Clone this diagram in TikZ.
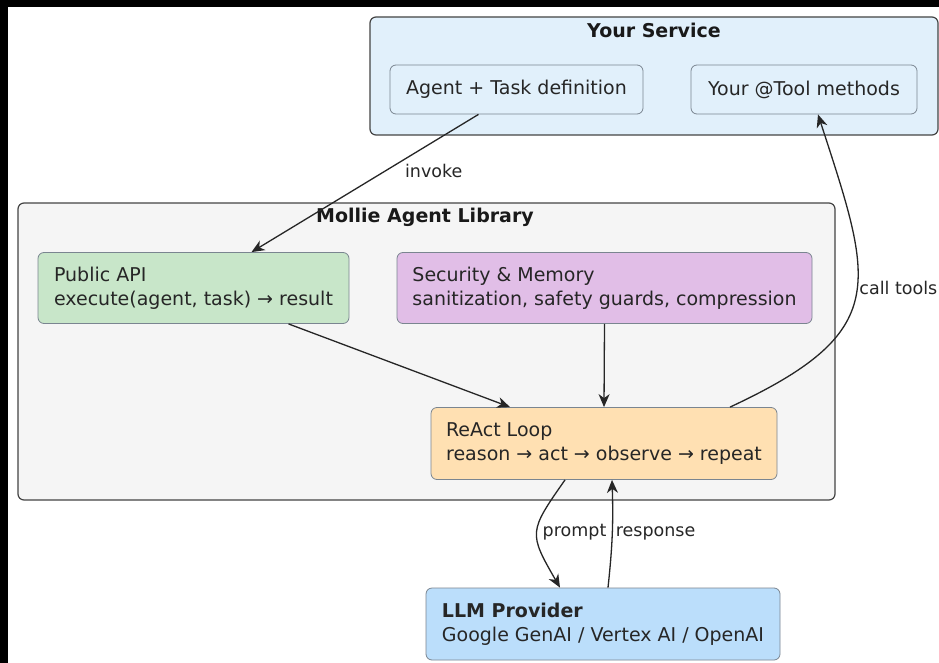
\documentclass[tikz,border=0pt]{standalone}
\usepackage{fontspec}
\setmainfont{DejaVu Sans}
\usetikzlibrary{arrows.meta}

\definecolor{serviceblue}{HTML}{E1F0FB}
\definecolor{libgrey}{HTML}{F5F5F5}
\definecolor{apigreen}{HTML}{C8E6C9}
\definecolor{secpurple}{HTML}{E1BEE7}
\definecolor{looporange}{HTML}{FFE0B2}
\definecolor{llmblue}{HTML}{BBDEFB}
\definecolor{boxline}{HTML}{444444}
\definecolor{partline}{HTML}{7A8590}

\begin{document}
\begin{tikzpicture}[x=1pt, y=-1pt, >={Stealth[length=13pt,width=11pt,inset=4pt]},
        line width=1.3pt,
        group box/.style={draw=boxline, rounded corners=6pt, line width=1.2pt},
        group title/.style={font=\fontsize{19}{24}\selectfont\bfseries, text=black!90},
        plain box/.style={draw=partline, fill=serviceblue, rounded corners=6pt,
            line width=0.8pt, font=\fontsize{19}{24}\selectfont, text=black!85},
        part box/.style={draw=partline, rounded corners=6pt, line width=0.8pt,
            align=left, inner xsep=15pt, font=\fontsize{19}{24}\selectfont, text=black!85},
        flow label/.style={font=\fontsize{17.5}{21}\selectfont, text=black!85, inner sep=1pt}]

    \useasboundingbox (0,0) rectangle (939,663);
    \fill[white] (0,0) rectangle (939,663);
    \fill[black] (0,0) rectangle (939,7);
    \fill[black] (0,0) rectangle (8,663);

    % Groups
    \node[group box, fill=serviceblue, minimum width=568pt, minimum height=118pt] (service) at (654,76) {};
    \node[group title] (servicetitle) at (654,30) {Your Service};
    \node[group box, fill=libgrey, minimum width=817pt, minimum height=297pt] (library) at (426.5,351.5) {};
    \node[group title] (librarytitle) at (425,217) {Mollie Agent Library};

    % Components
    \node[plain box, minimum width=253pt, minimum height=49pt] (agentdef) at (516.5,89.5) {Agent + Task definition};
    \node[plain box, minimum width=226pt, minimum height=49pt] (toolm) at (804,89.5) {Your @Tool methods};
    \node[part box, fill=apigreen, minimum width=311pt, minimum height=71pt] (pubapi) at (193.5,288)
        {Public API\\execute(agent, task) → result};
    \node[part box, fill=secpurple, minimum width=415pt, minimum height=71pt] (secmem) at (604.5,288)
        {Security \& Memory\\sanitization, safety guards, compression};
    \node[part box, fill=looporange, minimum width=346pt, minimum height=72pt] (react) at (604,443.5)
        {ReAct Loop\\reason → act → observe → repeat};
    \node[part box, fill=llmblue, minimum width=354pt, minimum height=72pt] (llm) at (603,624)
        {\textbf{LLM Provider}\\Google GenAI / Vertex AI / OpenAI};

    % Connections
    \draw[->, black!85] ([xshift=-38pt]agentdef.south) -- ([xshift=58pt]pubapi.north)
        node[flow label, pos=0.41, right=18pt] (invoke) {invoke};
    \draw[->, black!85] ([xshift=95pt]pubapi.south) -- ([xshift=-94pt]react.north);
    \draw[->, black!85] (secmem.south) -- (react.north);
    \draw[->, black!85] ([xshift=126pt]react.north) to[out=25, in=-72, looseness=1.5]
        node[flow label, pos=0.53, right=1pt] (calltools) {call tools} ([xshift=14pt]toolm.south);
    \draw[->, black!85] ([xshift=-39pt]react.south) to[out=-125, in=120, looseness=1.5]
        node[flow label, pos=0.5, right=4pt] (prompt) {prompt} ([xshift=-43pt]llm.north);
    \draw[->, black!85] ([xshift=5pt]llm.north) to[bend right=4]
        node[flow label, pos=0.5, right=2pt] (response) {response} ([xshift=8pt]react.south);
\end{tikzpicture}
\end{document}
